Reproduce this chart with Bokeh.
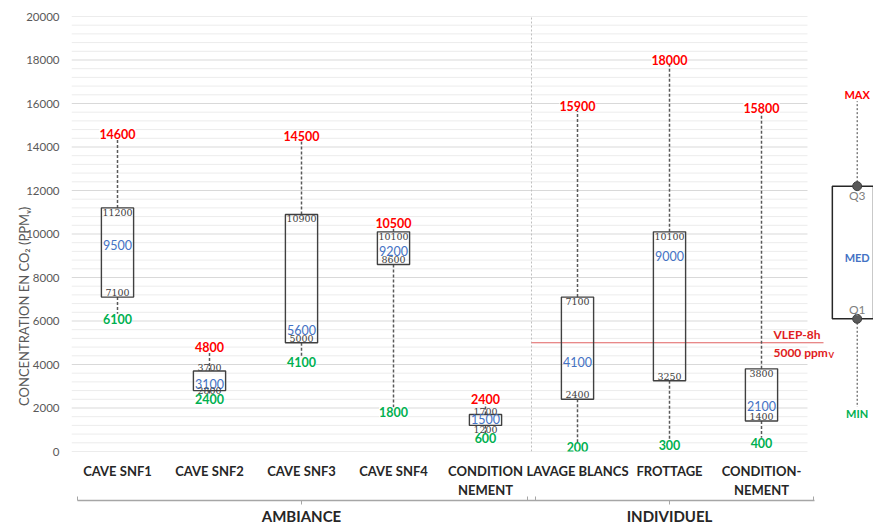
import math
from bokeh.plotting import figure
from bokeh.models import ColumnDataSource, FixedTicker, LinearAxis, Range1d, Label, LabelSet
from bokeh.core.properties import value
from bokeh.embed import file_html
from bokeh.resources import INLINE

# ---------------- data ----------------
categories = ["CAVE SNF1", "CAVE SNF2", "CAVE SNF3", "CAVE SNF4", "CONDITION\nNEMENT",
              "LAVAGE BLANCS", "FROTTAGE", "CONDITION-\nNEMENT"]
groups = ["AMBIANCE", "INDIVIDUEL"]
group_sizes = [5, 3]
max_vals = [14600, 4800, 14500, 10500, 2400, 15900, 18000, 15800]
q3_vals = [11200, 3700, 10900, 10100, 1700, 7100, 10100, 3800]
med_vals = [9500, 3100, 5600, 9200, 1500, 4100, 9000, 2100]
q1_vals = [7100, 2800, 5000, 8600, 1200, 2400, 3250, 1400]
min_vals = [6100, 2400, 4100, 1800, 600, 200, 300, 400]
# where the quartile labels sit relative to the box edge
q3_place = ["in", "out", "in", "in", "out", "in", "in", "in"]
q1_place = ["in", "on", "in", "in", "out", "in", "in", "in"]

y_ticks = list(range(0, 20001, 2000))
y_minor_step = 400
y_title = "CONCENTRATION EN CO\u2082 (PPM\u1d65)"
y_title_at = 11250
vlep_value = 5000
vlep_texts = ["VLEP-8h", "5000 ppm", "V"]
legend_names = ["MAX", "Q3", "MED", "Q1", "MIN"]
legend_values = [16400, 12200, 8900, 6100, 1750]

# ---------------- layout ----------------
CAT_PX = 92
FRAME_W = 802
FRAME_H = 435
n = len(categories)
xs = list(range(n))
x_end = -0.5 + FRAME_W / CAT_PX
sep_x = group_sizes[0] - 0.5
legend_x = 8.04

FONT = "Lato"
RED, GREEN, BLUE, DARK = "#ff0000", "#00b050", "#4472c4", "#404040"

p = figure(title=None, frame_width=FRAME_W, frame_height=FRAME_H,
           x_range=Range1d(-0.5, x_end), y_range=Range1d(y_ticks[0], y_ticks[-1]),
           output_backend="svg", toolbar_location=None,
           min_border_left=71, min_border_right=0, min_border_top=16, min_border_bottom=0)
p.outline_line_color = None
p.xgrid.visible = False
p.ygrid.visible = False
p.background_fill_color = "white"
p.border_fill_color = "white"

# gridlines (limited to the category area)
minor_lines = [v for v in range(y_ticks[0], y_ticks[-1] + 1, y_minor_step) if v not in y_ticks]
p.segment(x0=-0.5, x1=n - 0.5, y0=minor_lines, y1=minor_lines, line_color="#ececec", line_width=1)
p.segment(x0=-0.5, x1=n - 0.5, y0=y_ticks, y1=y_ticks, line_color="#d9d9d9", line_width=1)

# group separator and VLEP line
p.segment(x0=[sep_x], x1=[sep_x], y0=[y_ticks[0]], y1=[y_ticks[-1]],
          line_color="#bfbfbf", line_width=1, line_dash="2 2")
p.segment(x0=[sep_x], x1=[7.674], y0=[vlep_value], y1=[vlep_value],
          line_color="#e06060", line_width=1)

src = ColumnDataSource(dict(
    x=xs, mx=max_vals, q3=q3_vals, med=med_vals, q1=q1_vals, mn=min_vals,
    mx_t=[str(v) for v in max_vals], q3_t=[str(v) for v in q3_vals],
    med_t=[str(v) for v in med_vals], q1_t=[str(v) for v in q1_vals],
    mn_t=[str(v) for v in min_vals]))

# whiskers
p.segment(x0="x", x1="x", y0="q3", y1="mx", source=src, line_color="#595959",
          line_width=1.5, line_dash="3 2")
p.segment(x0="x", x1="x", y0="q1", y1="mn", source=src, line_color="#595959",
          line_width=1.5, line_dash="3 2")
# boxes
p.vbar(x="x", width=0.35, top="q3", bottom="q1", source=src, fill_color=None,
       line_color=DARK, line_width=1.4)

# max / min labels
big = dict(text_align="center", text_baseline="middle", text_font=value(FONT),
           text_font_size="12.5px", background_fill_color="white")
p.add_layout(LabelSet(x="x", y="mx", text="mx_t", source=src, text_color=RED,
                      text_font_style="bold", **big))
p.add_layout(LabelSet(x="x", y="mn", text="mn_t", source=src, text_color=GREEN,
                      text_font_style="bold", **big))
p.add_layout(LabelSet(x="x", y="med", text="med_t", source=src, text_color=BLUE,
                      text_align="center", text_baseline="middle", text_font=value(FONT),
                      text_font_size="12.5px"))

# quartile labels
def subset(field, places, want):
    idx = [i for i, pl in enumerate(places) if pl == want]
    vals = src.data[field]
    return ColumnDataSource(dict(x=[xs[i] for i in idx], y=[vals[i] for i in idx],
                                 t=[str(vals[i]) for i in idx]))

small = dict(text_align="center", text_font=value("DejaVu Serif"), text_font_size="9.5px",
             text_color=DARK)
p.add_layout(LabelSet(x="x", y="y", text="t", source=subset("q3", q3_place, "in"),
                      text_baseline="top", y_offset=-1, **small))
p.add_layout(LabelSet(x="x", y="y", text="t", source=subset("q3", q3_place, "out"),
                      text_baseline="bottom", y_offset=0, **small))
p.add_layout(LabelSet(x="x", y="y", text="t", source=subset("q1", q1_place, "in"),
                      text_baseline="bottom", y_offset=1, **small))
p.add_layout(LabelSet(x="x", y="y", text="t", source=subset("q1", q1_place, "on"),
                      text_baseline="middle", y_offset=0, **small))
p.add_layout(LabelSet(x="x", y="y", text="t", source=subset("q1", q1_place, "out"),
                      text_baseline="top", y_offset=-1, **small))

# VLEP texts
vlep_style = dict(text_align="left", text_baseline="middle", text_font=FONT,
                  text_font_style="bold", text_color="#e02020")
p.add_layout(Label(x=7.13, y=vlep_value, y_offset=8.5, text=vlep_texts[0],
                   text_font_size="12px", **vlep_style))
p.add_layout(Label(x=7.13, y=vlep_value, y_offset=-9.5, text=vlep_texts[1],
                   text_font_size="12px", **vlep_style))
p.add_layout(Label(x=7.13, y=vlep_value, x_offset=55, y_offset=-12.5, text=vlep_texts[2],
                   text_font_size="8px", **vlep_style))

# explanatory mini box (legend)
lv = dict(zip(legend_names, legend_values))
p.segment(x0=legend_x, x1=legend_x, y0=[lv["Q3"], lv["Q1"]], y1=[lv["MAX"], lv["MIN"]],
          line_color=DARK, line_width=1, line_dash="2 2")
p.vbar(x=[legend_x], width=0.54, top=[lv["Q3"]], bottom=[lv["Q1"]], fill_color=None,
       line_color="#262626", line_width=1.5)
leg_style = {
    "MAX": dict(color=RED, bold=True, base="middle", off=0, bg="white"),
    "Q3": dict(color="#7f7f7f", bold=False, base="top", off=-2, bg=None),
    "MED": dict(color=BLUE, bold=True, base="middle", off=0, bg=None),
    "Q1": dict(color="#7f7f7f", bold=False, base="bottom", off=2, bg=None),
    "MIN": dict(color=GREEN, bold=True, base="middle", off=0, bg="white"),
}
for name in legend_names:
    st = leg_style[name]
    p.add_layout(Label(x=legend_x, y=lv[name], y_offset=st["off"], text=name,
                       text_align="center", text_baseline=st["base"], text_font=FONT,
                       text_font_style="bold" if st["bold"] else "normal",
                       text_font_size="11px" if st["bold"] else "12px",
                       text_color=st["color"], background_fill_color=st["bg"]))
p.scatter(x=legend_x, y=[lv["Q3"], lv["Q1"]], size=9, fill_color="#595959",
          line_color="#404040", line_width=1)

# y axis
p.yaxis.ticker = FixedTicker(ticks=y_ticks)
p.yaxis.axis_line_color = None
p.yaxis.major_tick_line_color = None
p.yaxis.minor_tick_line_color = None
p.yaxis.major_tick_out = 0
p.yaxis.minor_tick_out = 0
p.yaxis.major_tick_in = 0
p.yaxis.minor_tick_in = 0
p.yaxis.major_label_text_font = FONT
p.yaxis.major_label_text_font_size = "11.5px"
p.yaxis.major_label_text_color = "#595959"
p.yaxis.major_label_standoff = 12

# y title as the single tick label of an outer left axis
taxis = LinearAxis(ticker=FixedTicker(ticks=[y_title_at]),
                   major_label_overrides={y_title_at: y_title})
taxis.major_label_orientation = math.pi / 2
taxis.axis_line_color = None
taxis.major_tick_line_color = None
taxis.minor_tick_line_color = None
taxis.major_tick_out = 0
taxis.minor_tick_out = 0
taxis.major_tick_in = 0
taxis.minor_tick_in = 0
taxis.major_label_standoff = 0
taxis.major_label_text_font = FONT
taxis.major_label_text_font_size = "13px"
taxis.major_label_text_color = "#595959"
p.add_layout(taxis, "left")

# category axis
p.xaxis.ticker = FixedTicker(ticks=xs)
p.xaxis.major_label_overrides = {i: c for i, c in zip(xs, categories)}
p.xaxis.axis_line_color = None
p.xaxis.major_tick_line_color = None
p.xaxis.minor_tick_line_color = None
p.xaxis.major_label_text_font = FONT
p.xaxis.major_label_text_font_style = "bold"
p.xaxis.major_label_text_font_size = "13px"
p.xaxis.major_label_text_color = "#262626"
p.xaxis.major_label_text_line_height = 1.2
p.xaxis.major_label_standoff = 5

# group axis with brackets
starts = [sum(group_sizes[:i]) for i in range(len(groups))]
group_centers = [s + (g - 1) / 2 for s, g in zip(starts, group_sizes)]
bracket_ends = [-0.43, 4.46, 4.54, 7.57]
gaxis = LinearAxis(ticker=FixedTicker(ticks=group_centers, minor_ticks=bracket_ends),
                   bounds=(-0.435, 7.575),
                   major_label_overrides={c: g for c, g in zip(group_centers, groups)})
gaxis.axis_line_color = "#a6a6a6"
gaxis.axis_line_width = 1.3
gaxis.major_tick_line_color = "#a6a6a6"
gaxis.major_tick_out = 4
gaxis.major_tick_in = 0
gaxis.minor_tick_line_color = "#a6a6a6"
gaxis.minor_tick_in = 4
gaxis.minor_tick_out = 0
gaxis.major_label_standoff = 2
gaxis.major_label_text_font = FONT
gaxis.major_label_text_font_style = "bold"
gaxis.major_label_text_font_size = "15px"
gaxis.major_label_text_color = "#262626"
p.add_layout(gaxis, "below")

open("out.html", "w").write(file_html(p, INLINE))
